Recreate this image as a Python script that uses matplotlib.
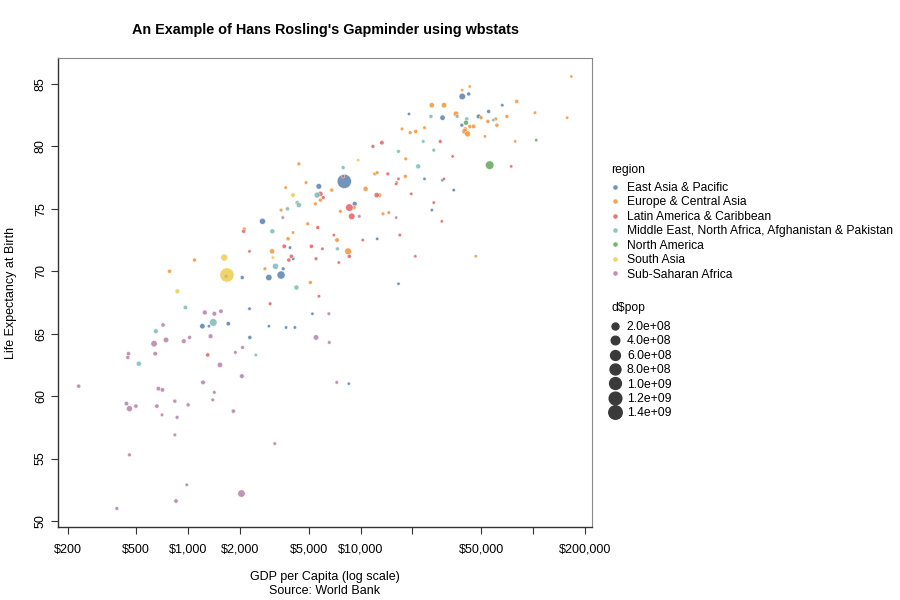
import matplotlib
matplotlib.use("Agg")
import matplotlib.pyplot as plt
from matplotlib.lines import Line2D
import numpy as np

plt.rcParams['font.family'] = ['Liberation Sans', 'DejaVu Sans']

# values (GDP per capita in $, life expectancy, population in millions)
eap_gdp = [38900, 42400, 66400, 19100, 29900, 48400, 55300, 38700, 8050, 23500,
           29900, 34700, 9250, 25900, 12500, 16600, 5730, 2700, 3900, 4070,
           2060, 3560, 2940, 3460, 2270, 5260, 1210, 1320, 1710, 2940,
           3700, 4160, 2280, 8550, 1660]
eap_life = [84.0, 84.2, 83.3, 82.6, 82.3, 82.4, 82.8, 81.7, 77.2, 77.4,
            77.3, 76.5, 75.4, 74.9, 72.6, 69.0, 76.8, 74.0, 71.9, 71.0,
            69.5, 70.2, 69.5, 69.7, 67.0, 66.6, 65.6, 65.6, 65.8, 65.6,
            65.5, 65.5, 64.7, 61.0, 69.6]
eap_pop = [126, 7.5, 0.6, 0.2, 52, 25, 5.7, 5, 1400, 0.17,
           0.5, 0.4, 32, 0.1, 0.3, 0.05, 70, 97, 0.7, 0.5,
           7, 3.3, 110, 270, 0.9, 0.1, 54, 0.1, 16.7, 0.1,
           0.3, 0.6, 9, 0.01, 7]

eca_gdp = [167000, 43000, 38900, 80500, 25900, 30500, 35800, 50000, 70600, 102800,
           158000, 54800, 60800, 61800, 40500, 43100, 45300, 40200, 41800, 52700,
           78900, 17400, 19400, 20900, 23500, 18300, 12100, 12500, 18200, 6810,
           10700, 12900, 9170, 13500, 14600, 7640, 7310, 8470, 46600, 4390,
           4830, 3680, 5850, 5470, 3460, 2120, 4060, 3800, 3070, 1090,
           780, 2790, 5120, 4940]
eca_life = [85.6, 84.8, 84.5, 83.6, 83.3, 83.3, 82.6, 82.3, 82.4, 82.7,
            82.3, 82.0, 82.2, 81.7, 81.4, 81.6, 81.6, 81.2, 81.0, 80.8,
            80.4, 81.4, 81.1, 81.2, 81.5, 79.0, 77.8, 77.9, 77.6, 76.5,
            76.6, 76.1, 75.1, 74.6, 74.7, 74.8, 72.5, 71.6, 71.2, 78.6,
            77.1, 76.7, 75.7, 75.4, 74.9, 73.4, 73.1, 72.6, 71.6, 70.9,
            70.0, 70.2, 69.1, 73.8]
eca_pop = [0.04, 0.04, 0.08, 8.6, 47, 60, 67, 5.5, 5.4, 0.6,
           0.04, 10, 4.9, 9, 10, 11, 17, 67, 83, 0.4,
           0.05, 2, 5.5, 10, 1.3, 2.8, 4, 2, 5.5, 7,
           38, 19, 9.7, 2.8, 1.9, 2.9, 18.8, 144, 0.06, 3.7,
           2.1, 0.6, 7, 2.8, 3, 2.6, 0.6, 10, 44, 6.5,
           9.5, 3.7, 6, 4]

lac_gdp = [29000, 11800, 13300, 34200, 74800, 7930, 14400, 16600, 16200, 16100,
           30500, 12400, 19700, 26600, 29600, 8610, 8890, 7000, 10300, 16900,
           8610, 7480, 20800, 5850, 6080, 5650, 2100, 3610, 5190, 6010,
           2270, 3970, 3840, 5520, 5740, 2990, 1300]
lac_life = [80.4, 80.0, 80.3, 79.2, 78.4, 77.6, 77.8, 77.4, 77.1, 77.0,
            77.4, 76.1, 76.2, 75.5, 74.0, 75.1, 74.4, 72.9, 72.5, 72.9,
            71.2, 70.7, 71.2, 76.2, 75.9, 73.5, 73.2, 72.0, 72.0, 71.8,
            71.6, 71.2, 70.9, 71.0, 68.0, 67.4, 63.3]
lac_pop = [3.2, 5, 19, 0.1, 0.07, 0.05, 3.5, 0.3, 0.1, 0.04,
           0.04, 45, 0.3, 0.4, 0.1, 212, 128, 0.1, 0.6, 1.4,
           11, 0.2, 0.05, 50, 4.3, 6.6, 6.6, 17, 11, 0.6,
           0.4, 10.8, 9.9, 3.3, 0.8, 2.9, 11]

mena_gdp = [25600, 36400, 41300, 58900, 23100, 16600, 26600, 7930, 21600, 7350,
            5600, 4290, 4390, 3770, 3080, 3210, 4250, 964, 1400, 650,
            518, 2470]
mena_life = [82.4, 82.4, 82.2, 82.1, 80.4, 79.6, 79.7, 78.3, 78.4, 71.8,
             76.1, 75.5, 75.3, 75.0, 73.2, 70.4, 68.7, 67.1, 65.9, 65.2,
             62.6, 63.3]
mena_pop = [9, 2.8, 9.8, 0.5, 1.7, 5, 4.3, 7, 35, 6.9,
            84, 12, 44, 10, 37, 100, 40, 17, 220, 30,
            39, 1]

na_gdp = [56100, 40900, 104500]
na_life = [78.5, 81.9, 80.5]
na_pop = [330, 38, 0.06]

sa_gdp = [9700, 4060, 3100, 1620, 1680, 867]
sa_life = [78.9, 76.1, 71.1, 71.1, 69.7, 68.4]
sa_pop = [0.5, 21, 0.8, 165, 1380, 29]

ssa_gdp = [9840, 16100, 3540, 1250, 1420, 1550, 6550, 716, 635, 745,
           944, 1020, 1350, 5520, 6590, 2070, 451, 447, 644, 1880,
           1530, 2050, 232, 1220, 673, 710, 1420, 1390, 439, 457,
           498, 659, 838, 1000, 706, 863, 1830, 7280, 838, 3180,
           457, 982, 2040, 851, 386]
ssa_life = [74.4, 74.3, 74.3, 66.7, 66.6, 66.8, 66.6, 65.7, 64.2, 64.5,
            64.4, 64.7, 64.8, 64.7, 64.3, 63.9, 63.4, 63.1, 63.4, 63.5,
            62.5, 61.6, 60.8, 61.1, 60.6, 60.5, 60.3, 59.7, 59.4, 59.0,
            59.2, 59.2, 59.6, 59.3, 58.5, 58.3, 58.8, 61.1, 56.9, 56.2,
            55.3, 52.9, 52.2, 51.6, 51.0]
ssa_pop = [1.3, 0.1, 0.6, 31, 26, 16, 2.3, 12, 115, 60,
           28, 8, 27, 59, 2.3, 4.8, 12, 8, 19, 2.2,
           54, 26, 12, 24, 21, 17, 2.2, 2.4, 19, 90,
           13, 16, 8, 8, 2, 4.9, 13, 1.4, 1.9, 1.2,
           5, 0.9, 206, 16, 4.8]

regions = ["East Asia & Pacific", "Europe & Central Asia", "Latin America & Caribbean",
           "Middle East, North Africa, Afghanistan & Pakistan", "North America",
           "South Asia", "Sub-Saharan Africa"]
colors = ["#4E79A7", "#F28E2B", "#E15759", "#76B7B2", "#59A14F", "#EDC948", "#B07AA1"]
series = [(eap_gdp, eap_life, eap_pop), (eca_gdp, eca_life, eca_pop),
          (lac_gdp, lac_life, lac_pop), (mena_gdp, mena_life, mena_pop),
          (na_gdp, na_life, na_pop), (sa_gdp, sa_life, sa_pop),
          (ssa_gdp, ssa_life, ssa_pop)]

pop_breaks = [200, 400, 600, 800, 1000, 1200, 1400]
pop_labels = ["2.0e+08", "4.0e+08", "6.0e+08", "8.0e+08", "1.0e+09", "1.2e+09", "1.4e+09"]


def diam_pt(pop):
    # bubble diameter: sqrt scale on population, in points (dpi 100)
    return (3.2 + 11.0 * np.sqrt(np.asarray(pop, dtype=float) / 1400.0)) * 0.72


fig = plt.figure(figsize=(9, 6), dpi=100)
ax = fig.add_axes([58 / 900, 1 - 527 / 600, (592 - 58) / 900, (527 - 58) / 600])

for (g, l, p), c in zip(series, colors):
    ax.scatter(g, l, s=diam_pt(p) ** 2, color=c, alpha=0.8,
               edgecolors='white', linewidths=0.4, zorder=3)

ax.set_xscale('log')
ax.set_xlim(176, 220000)
ax.set_ylim(49.52, 87.08)

xt = [200, 500, 1000, 2000, 5000, 10000, 20000, 50000, 100000, 200000]
xl = ["$200", "$500", "$1,000", "$2,000", "$5,000", "$10,000", "", "$50,000", "", "$200,000"]
ax.set_xticks(xt)
ax.set_xticklabels(xl)
ax.xaxis.set_minor_locator(plt.NullLocator())
ax.set_yticks([50, 55, 60, 65, 70, 75, 80, 85])
for t in ax.get_yticklabels():
    t.set_rotation(90)
    t.set_va('center')

ax.tick_params(axis='both', labelsize=9, length=5, width=0.8, color='#333333',
               labelcolor='black')
ax.tick_params(axis='x', pad=7)
ax.tick_params(axis='y', pad=3)
for side in ['left', 'bottom']:
    ax.spines[side].set_color('#333333')
    ax.spines[side].set_linewidth(1.0)
for side in ['top', 'right']:
    ax.spines[side].set_color('#888888')
    ax.spines[side].set_linewidth(0.8)

ax.set_xlabel("GDP per Capita (log scale)\nSource: World Bank", fontsize=9, labelpad=11)
ax.set_ylabel("Life Expectancy at Birth", fontsize=9, labelpad=13)
fig.text(325 / 900, 1 - 30 / 600, "An Example of Hans Rosling's Gapminder using wbstats",
         ha='center', va='center', fontsize=10.4, fontweight='bold')

# region legend
fig.text(611 / 900, 1 - 170 / 600, "region", fontsize=8.7, ha='left', va='center')
h1 = [Line2D([], [], marker='o', linestyle='', markersize=3.6, color=c, alpha=0.8,
             markeredgecolor='white', markeredgewidth=0.3) for c in colors]
leg1 = fig.legend(h1, regions, loc='upper left',
                  bbox_to_anchor=(610 / 900, 1 - 182 / 600), frameon=False,
                  fontsize=8.7, handlelength=0.9, handletextpad=0.5,
                  labelspacing=0.2, borderpad=0, borderaxespad=0)

# size legend
fig.text(611 / 900, 1 - 308 / 600, "d$pop", fontsize=8.7, ha='left', va='center')
h2 = [Line2D([], [], marker='o', linestyle='', markersize=diam_pt(b) * 0.95,
             color='#3a3a3a') for b in pop_breaks]
leg2 = fig.legend(h2, pop_labels, loc='upper left',
                  bbox_to_anchor=(610 / 900, 1 - 321 / 600), frameon=False,
                  fontsize=8.7, handlelength=0.9, handletextpad=0.5,
                  labelspacing=0.2, borderpad=0, borderaxespad=0)

fig.savefig("out.png", dpi=100)
